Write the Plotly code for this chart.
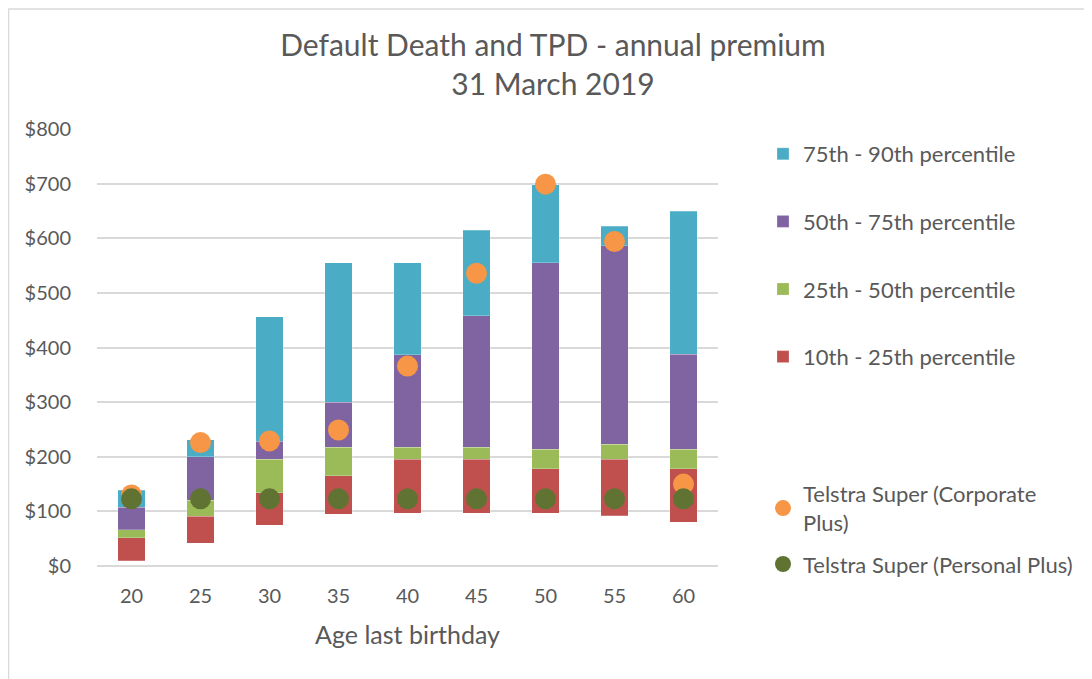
import plotly.graph_objects as go

ages = ["20", "25", "30", "35", "40", "45", "50", "55", "60"]
p10 = [10, 42, 75, 95, 97, 97, 97, 92, 80]
p25 = [52, 91, 134, 165, 195, 195, 178, 195, 178]
p50 = [66, 120, 195, 217, 217, 217, 214, 223, 214]
p75 = [108, 200, 228, 300, 387, 458, 555, 586, 388]
p90 = [139, 231, 456, 555, 555, 615, 698, 622, 649]
corporate_plus = [130, 226, 229, 249, 366, 536, 699, 594, 150]
personal_plus = [123, 123, 123, 123, 123, 123, 123, 123, 123]

seg_names = ["10th - 25th percentile", "25th - 50th percentile",
             "50th - 75th percentile", "75th - 90th percentile"]
seg_colors = ["#C0504D", "#9BBB59", "#8064A2", "#4BACC6"]
lows = [p10, p25, p50, p75]
highs = [p25, p50, p75, p90]

FONT = "Lato"
GREY = "#595959"
W, H = 1092, 679
OFF = 8  # page body margin offset
L, T, PW, PH = 97 - OFF, 129 - OFF, 621, 437
R, B = W - L - PW, H - T - PH

fig = go.Figure()
fig.add_trace(go.Bar(x=ages, y=p10, marker=dict(color="rgba(0,0,0,0)", line=dict(width=0)),
                     showlegend=False, hoverinfo="skip"))
for i, (name, col, lo, hi) in enumerate(zip(seg_names, seg_colors, lows, highs)):
    fig.add_trace(go.Bar(
        x=ages, y=[h - l for h, l in zip(hi, lo)], name=name,
        marker=dict(color=col, line=dict(color="rgba(255,255,255,0.4)", width=0.6)),
        legendgroup=name, legendrank=10 - i, legend="legend"))

fig.add_trace(go.Scatter(x=ages, y=corporate_plus, mode="markers",
                         name="Telstra Super (Corporate<br>Plus)", legendgroup="corp",
                         marker=dict(color="#F79646", size=21), legend="legend2"))
fig.add_trace(go.Scatter(x=ages, y=personal_plus, mode="markers",
                         name="Telstra Super (Personal Plus)", legendgroup="pers",
                         marker=dict(color="#617332", size=21), legend="legend2"))

fig.update_layout(
    width=W, height=H,
    barmode="stack", bargap=0.6,
    paper_bgcolor="white", plot_bgcolor="white",
    margin=dict(l=L, r=R, t=T, b=B, autoexpand=False),
    font=dict(family=FONT, color=GREY, size=20),
    title=dict(text="Default Death and TPD - annual premium<br>31 March 2019",
               x=(553 - OFF) / W, xanchor="center", xref="container",
               y=1 - 48 / H, yanchor="top", yref="container",
               font=dict(family=FONT, size=30, color=GREY)),
    xaxis=dict(type="category", range=[-0.5, len(ages) - 0.5], showgrid=False,
               showline=False, ticks="",
               tickfont=dict(size=20, color=GREY), ticklabelstandoff=16,
               title=dict(text="Age last birthday", font=dict(size=25, color=GREY), standoff=20)),
    yaxis=dict(range=[0, 800], dtick=100, tickprefix="$", showgrid=True,
               gridcolor="#D9D9D9", gridwidth=1.5, zeroline=True, zerolinecolor="#D9D9D9",
               zerolinewidth=1.5, showline=False, tickfont=dict(size=20, color=GREY),
               ticklabelstandoff=25),
    legend=dict(xref="container", yref="container", x=755 / W, xanchor="left",
                y=1 - 125 / H, yanchor="top", traceorder="grouped",
                tracegroupgap=36, font=dict(size=22, color=GREY), itemwidth=30,
                bgcolor="rgba(0,0,0,0)"),
    legend2=dict(xref="container", yref="container", x=755 / W, xanchor="left",
                 y=1 - 465 / H, yanchor="top", traceorder="grouped", tracegroupgap=10,
                 font=dict(size=22, color=GREY), itemwidth=30, bgcolor="rgba(0,0,0,0)"),
    showlegend=True,
)
fig.add_shape(type="rect", xref="paper", yref="paper",
              x0=(0.5 - L) / PW, x1=(W + 5 - L) / PW,
              y0=-(H + 5 - (T + PH)) / PH, y1=(T + PH - 1) / PH,
              line=dict(color="#D9D9D9", width=1.5), fillcolor="rgba(0,0,0,0)", layer="below")

fig.write_html("out.html")
